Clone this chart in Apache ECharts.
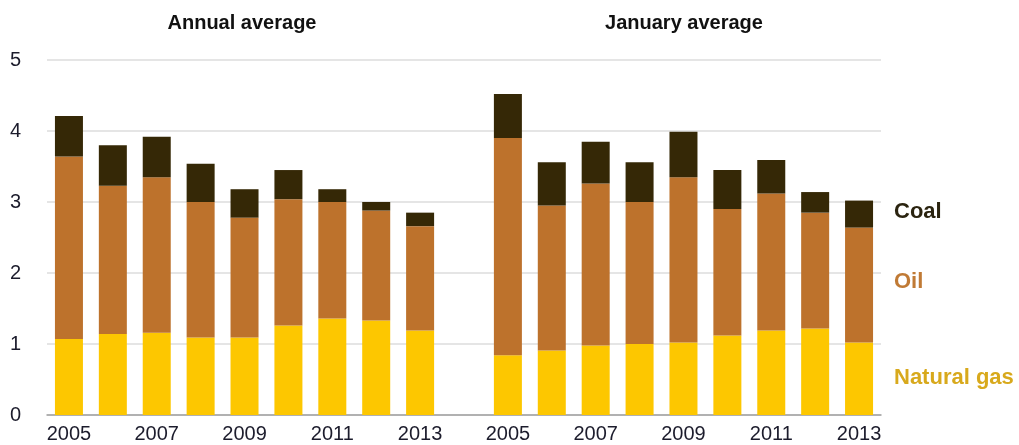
<!DOCTYPE html>
<html>
<head>
<meta charset="utf-8">
<script src="https://cdn.jsdelivr.net/npm/echarts@6/dist/echarts.min.js"></script>
<style>
  html, body { margin: 0; padding: 0; background: #fff; }
  #chart { width: 1019px; height: 445px; }
</style>
</head>
<body>
<div id="chart"></div>
<script>
// data
const years = ["2005", "2006", "2007", "2008", "2009", "2010", "2011", "2012", "2013"];

const annualGas  = [1.07, 1.14, 1.16, 1.09, 1.09, 1.26, 1.36, 1.33, 1.19];
const annualOil  = [2.57, 2.09, 2.19, 1.91, 1.69, 1.78, 1.64, 1.55, 1.47];
const annualCoal = [0.57, 0.57, 0.57, 0.54, 0.40, 0.41, 0.18, 0.12, 0.19];

const janGas  = [0.84, 0.91, 0.98, 1.00, 1.02, 1.12, 1.19, 1.22, 1.02];
const janOil  = [3.06, 2.04, 2.28, 2.00, 2.33, 1.78, 1.93, 1.63, 1.62];
const janCoal = [0.62, 0.61, 0.59, 0.56, 0.64, 0.55, 0.47, 0.29, 0.38];

const yTicks = [0, 1, 2, 3, 4, 5];

// one shared axis, empty slot between the two panels
const categories = [...years, "", ...years];
const join = (a, b) => [...a, null, ...b];

const colors = { gas: "#fdc700", oil: "#bd722c", coal: "#352806" };

const chart = echarts.init(document.getElementById("chart"));

const barSeries = (name, data, color) => ({
    name: name,
    type: "bar",
    stack: "total",
    barWidth: 28,
    data: data,
    itemStyle: { color: color },
});

const titleFont = "bold 20px 'Liberation Sans', Arial, sans-serif";
const legendFont = "bold 22px 'Liberation Sans', Arial, sans-serif";

chart.setOption({
    animation: false,
    grid: { left: 47, right: 138, top: 60, bottom: 30 },
    xAxis: {
        type: "category",
        data: categories,
        axisLine: { lineStyle: { color: "#a0a0a0", width: 1.5 } },
        axisTick: { show: false },
        axisLabel: {
            interval: 1,
            margin: 9,
            color: "#1c1c2c",
            fontSize: 20,
            fontFamily: "Liberation Sans, Arial, sans-serif",
        },
    },
    yAxis: {
        type: "value",
        min: yTicks[0],
        max: yTicks[yTicks.length - 1],
        interval: 1,
        axisLine: { show: false },
        axisTick: { show: false },
        splitLine: { lineStyle: { color: "#dcdcdc", width: 1.5 } },
        axisLabel: {
            margin: 26,
            color: "#1c1c2c",
            fontSize: 20,
            fontFamily: "Liberation Sans, Arial, sans-serif",
        },
    },
    series: [
        barSeries("Natural gas", join(annualGas, janGas), colors.gas),
        barSeries("Oil", join(annualOil, janOil), colors.oil),
        barSeries("Coal", join(annualCoal, janCoal), colors.coal),
    ],
    graphic: [
        {
            type: "text", x: 242, y: 23,
            style: { text: "Annual average", font: titleFont, fill: "#111", align: "center", verticalAlign: "middle" },
        },
        {
            type: "text", x: 684, y: 23,
            style: { text: "January average", font: titleFont, fill: "#111", align: "center", verticalAlign: "middle" },
        },
        {
            type: "text", x: 894, y: 212,
            style: { text: "Coal", font: legendFont, fill: "#2b2410", verticalAlign: "middle" },
        },
        {
            type: "text", x: 894, y: 282,
            style: { text: "Oil", font: legendFont, fill: "#c07a35", verticalAlign: "middle" },
        },
        {
            type: "text", x: 894, y: 378,
            style: { text: "Natural gas", font: legendFont, fill: "#d8a91c", verticalAlign: "middle" },
        },
    ],
});
</script>
</body>
</html>
